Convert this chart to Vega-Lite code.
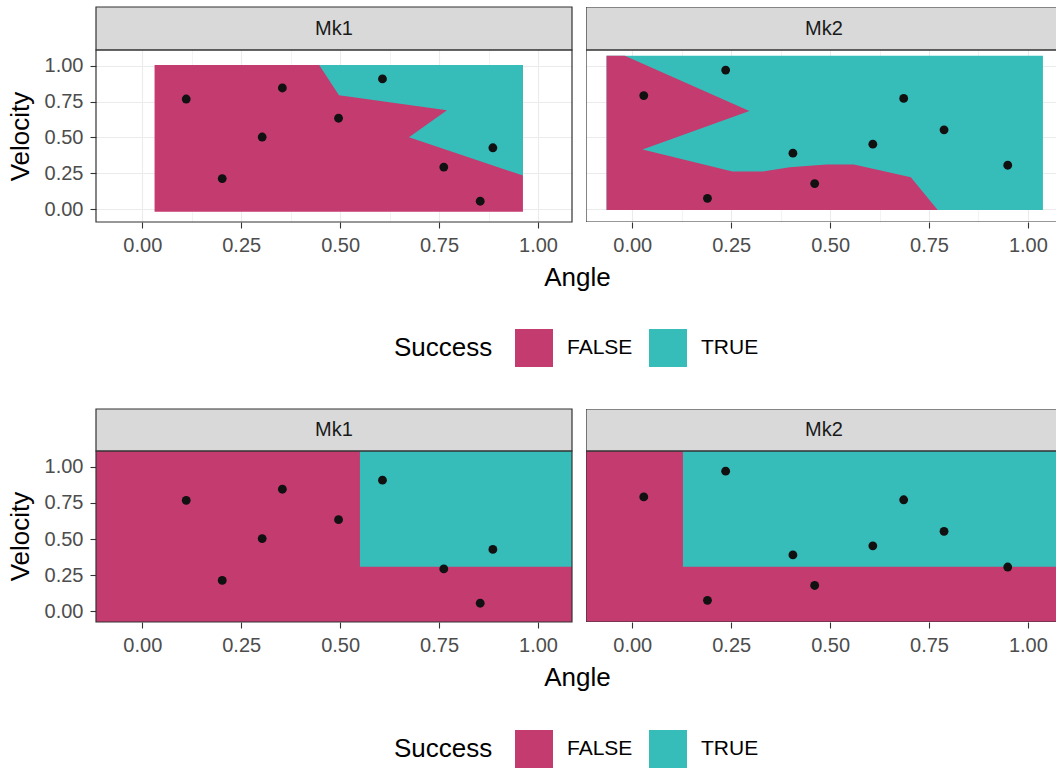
{
  "$schema": "https://vega.github.io/schema/vega-lite/v6.json",
  "background": "white",
  "padding": {"left": 7, "top": 6, "right": 0, "bottom": 0},
  "config": {
    "font": "Liberation Sans",
    "view": {"stroke": null},
    "axis": {
      "domain": false,
      "labelFont": "Liberation Sans",
      "labelFontSize": 20,
      "labelColor": "#4D4D4D",
      "labelPadding": 7,
      "labelOverlap": false,
      "labelFlush": false,
      "labelBound": false,
      "tickColor": "#333333",
      "tickSize": 6,
      "tickWidth": 1.1,
      "titleFont": "Liberation Sans",
      "titleFontSize": 26,
      "titleFontWeight": "normal",
      "titleColor": "#000000",
      "gridColor": "#EBEBEB"
    },
    "axisX": {"titlePadding": 9},
    "axisY": {"titlePadding": 11}
  },
  "data": {
    "values": [
      {"kind": "strip", "panel": "Mk1"},
      {"kind": "strip", "panel": "Mk2"},
      {"kind": "pt", "panel": "Mk1", "Angle": 0.111, "Velocity": 0.768},
      {"kind": "pt", "panel": "Mk1", "Angle": 0.202, "Velocity": 0.213},
      {"kind": "pt", "panel": "Mk1", "Angle": 0.303, "Velocity": 0.503},
      {"kind": "pt", "panel": "Mk1", "Angle": 0.354, "Velocity": 0.845},
      {"kind": "pt", "panel": "Mk1", "Angle": 0.496, "Velocity": 0.634},
      {"kind": "pt", "panel": "Mk1", "Angle": 0.607, "Velocity": 0.908},
      {"kind": "pt", "panel": "Mk1", "Angle": 0.762, "Velocity": 0.293},
      {"kind": "pt", "panel": "Mk1", "Angle": 0.854, "Velocity": 0.055},
      {"kind": "pt", "panel": "Mk1", "Angle": 0.886, "Velocity": 0.428},
      {"kind": "pt", "panel": "Mk2", "Angle": 0.029, "Velocity": 0.792},
      {"kind": "pt", "panel": "Mk2", "Angle": 0.236, "Velocity": 0.970},
      {"kind": "pt", "panel": "Mk2", "Angle": 0.190, "Velocity": 0.075},
      {"kind": "pt", "panel": "Mk2", "Angle": 0.406, "Velocity": 0.390},
      {"kind": "pt", "panel": "Mk2", "Angle": 0.461, "Velocity": 0.178},
      {"kind": "pt", "panel": "Mk2", "Angle": 0.608, "Velocity": 0.453},
      {"kind": "pt", "panel": "Mk2", "Angle": 0.686, "Velocity": 0.772},
      {"kind": "pt", "panel": "Mk2", "Angle": 0.788, "Velocity": 0.553},
      {"kind": "pt", "panel": "Mk2", "Angle": 0.949, "Velocity": 0.306},
      {"kind": "rect", "row": "top", "panel": "Mk1", "Success": "FALSE", "a1": 0.031, "a2": 0.962, "v1": -0.019, "v2": 1.005},
      {"kind": "rect", "row": "top", "panel": "Mk2", "Success": "TRUE", "a1": -0.065, "a2": 1.038, "v1": -0.007, "v2": 1.070},
      {"kind": "rect", "row": "bot", "panel": "Mk1", "Success": "FALSE", "a1": -0.117, "a2": 1.086, "v1": -0.075, "v2": 1.11},
      {"kind": "rect", "row": "bot", "panel": "Mk1", "Success": "TRUE", "a1": 0.55, "a2": 1.086, "v1": 0.307, "v2": 1.11},
      {"kind": "rect", "row": "bot", "panel": "Mk2", "Success": "FALSE", "a1": -0.117, "a2": 1.071, "v1": -0.075, "v2": 1.11},
      {"kind": "rect", "row": "bot", "panel": "Mk2", "Success": "TRUE", "a1": 0.128, "a2": 1.071, "v1": 0.307, "v2": 1.11},
      {"kind": "poly", "row": "top", "panel": "Mk1", "Success": "TRUE", "i": 0, "Angle": 0.447, "Velocity": 1.005},
      {"kind": "poly", "row": "top", "panel": "Mk1", "Success": "TRUE", "i": 1, "Angle": 0.497, "Velocity": 0.794},
      {"kind": "poly", "row": "top", "panel": "Mk1", "Success": "TRUE", "i": 2, "Angle": 0.770, "Velocity": 0.689},
      {"kind": "poly", "row": "top", "panel": "Mk1", "Success": "TRUE", "i": 3, "Angle": 0.674, "Velocity": 0.502},
      {"kind": "poly", "row": "top", "panel": "Mk1", "Success": "TRUE", "i": 4, "Angle": 0.962, "Velocity": 0.234},
      {"kind": "poly", "row": "top", "panel": "Mk1", "Success": "TRUE", "i": 5, "Angle": 0.962, "Velocity": 1.005},
      {"kind": "poly", "row": "top", "panel": "Mk2", "Success": "FALSE", "i": 0, "Angle": -0.065, "Velocity": 1.070},
      {"kind": "poly", "row": "top", "panel": "Mk2", "Success": "FALSE", "i": 1, "Angle": -0.019, "Velocity": 1.070},
      {"kind": "poly", "row": "top", "panel": "Mk2", "Success": "FALSE", "i": 2, "Angle": 0.296, "Velocity": 0.685},
      {"kind": "poly", "row": "top", "panel": "Mk2", "Success": "FALSE", "i": 3, "Angle": 0.026, "Velocity": 0.416},
      {"kind": "poly", "row": "top", "panel": "Mk2", "Success": "FALSE", "i": 4, "Angle": 0.253, "Velocity": 0.262},
      {"kind": "poly", "row": "top", "panel": "Mk2", "Success": "FALSE", "i": 5, "Angle": 0.330, "Velocity": 0.262},
      {"kind": "poly", "row": "top", "panel": "Mk2", "Success": "FALSE", "i": 6, "Angle": 0.398, "Velocity": 0.292},
      {"kind": "poly", "row": "top", "panel": "Mk2", "Success": "FALSE", "i": 7, "Angle": 0.491, "Velocity": 0.311},
      {"kind": "poly", "row": "top", "panel": "Mk2", "Success": "FALSE", "i": 8, "Angle": 0.560, "Velocity": 0.311},
      {"kind": "poly", "row": "top", "panel": "Mk2", "Success": "FALSE", "i": 9, "Angle": 0.628, "Velocity": 0.269},
      {"kind": "poly", "row": "top", "panel": "Mk2", "Success": "FALSE", "i": 10, "Angle": 0.704, "Velocity": 0.222},
      {"kind": "poly", "row": "top", "panel": "Mk2", "Success": "FALSE", "i": 11, "Angle": 0.772, "Velocity": -0.007},
      {"kind": "poly", "row": "top", "panel": "Mk2", "Success": "FALSE", "i": 12, "Angle": -0.065, "Velocity": -0.007}
    ]
  },
  "spacing": 41,
  "resolve": {"scale": {"fill": "independent"}, "legend": {"fill": "independent"}},
  "vconcat": [
    {
      "hconcat": [
        {
          "width": 476,
          "height": 215,
          "layer": [
            {
              "transform": [{"filter": "datum.kind == 'rect' && datum.row == 'top' && datum.panel == 'Mk1'"}],
              "mark": {"type": "rect"},
              "encoding": {
                "x": {"field": "a1", "type": "quantitative", "scale": {"domain": [-0.117, 1.086], "nice": false, "zero": false},
                  "axis": {"values": [0, 0.125, 0.25, 0.375, 0.5, 0.625, 0.75, 0.875, 1], "format": ".2f",
                    "labelExpr": "datum.value * 8 % 2 == 1 ? '' : datum.label", "grid": true,
                    "gridWidth": {"condition": {"test": "datum.value * 8 % 2 == 1", "value": 0.6}, "value": 1.1},
                    "tickOpacity": {"condition": {"test": "datum.value * 8 % 2 == 1", "value": 0}, "value": 1},
                    "title": "Angle", "titleX": 481}},
                "x2": {"field": "a2"},
                "y": {"field": "v1", "type": "quantitative", "scale": {"domain": [-0.09, 1.41], "nice": false, "zero": false},
                  "axis": {"values": [0, 0.125, 0.25, 0.375, 0.5, 0.625, 0.75, 0.875, 1], "format": ".2f",
                    "labelExpr": "datum.value * 8 % 2 == 1 ? '' : datum.label", "grid": true,
                    "gridWidth": {"condition": {"test": "datum.value * 8 % 2 == 1", "value": 0.6}, "value": 1.1},
                    "tickOpacity": {"condition": {"test": "datum.value * 8 % 2 == 1", "value": 0}, "value": 1},
                    "title": "Velocity", "titleY": 129}},
                "y2": {"field": "v2"},
                "fill": {"field": "Success", "type": "nominal", "scale": {"domain": ["FALSE", "TRUE"], "range": ["#C33B6F", "#36BDBA"]},
                  "legend": {"title": "Success", "orient": "none", "legendX": 298, "legendY": 322, "direction": "horizontal",
                    "titleOrient": "left", "titleAnchor": "middle", "titleBaseline": "middle", "titleFont": "Liberation Sans",
                    "titleFontSize": 26, "titleFontWeight": "normal", "titleColor": "#000000", "titlePadding": 22,
                    "symbolType": "square", "symbolSize": 1444, "symbolStrokeWidth": 0, "labelFont": "Liberation Sans",
                    "labelFontSize": 21, "labelColor": "#000000", "labelOffset": 14, "columnPadding": 16, "padding": 0}}
              }
            },
            {
              "transform": [{"filter": "datum.kind == 'poly' && datum.row == 'top' && datum.panel == 'Mk1'"}],
              "mark": {"type": "line", "interpolate": "linear-closed", "strokeWidth": 0},
              "encoding": {
                "x": {"field": "Angle", "type": "quantitative", "scale": {"domain": [-0.117, 1.086], "nice": false, "zero": false}},
                "y": {"field": "Velocity", "type": "quantitative", "scale": {"domain": [-0.09, 1.41], "nice": false, "zero": false}},
                "order": {"field": "i", "type": "quantitative"},
                "fill": {"field": "Success", "type": "nominal", "scale": {"domain": ["FALSE", "TRUE"], "range": ["#C33B6F", "#36BDBA"]},
                  "legend": {"title": "Success", "orient": "none", "legendX": 298, "legendY": 322, "direction": "horizontal",
                    "titleOrient": "left", "titleAnchor": "middle", "titleBaseline": "middle", "titleFont": "Liberation Sans",
                    "titleFontSize": 26, "titleFontWeight": "normal", "titleColor": "#000000", "titlePadding": 22,
                    "symbolType": "square", "symbolSize": 1444, "symbolStrokeWidth": 0, "labelFont": "Liberation Sans",
                    "labelFontSize": 21, "labelColor": "#000000", "labelOffset": 14, "columnPadding": 16, "padding": 0}}
              }
            },
            {
              "transform": [{"filter": "datum.kind == 'pt' && datum.panel == 'Mk1'"}],
              "mark": {"type": "circle", "size": 78, "color": "#111111", "opacity": 1},
              "encoding": {
                "x": {"field": "Angle", "type": "quantitative", "scale": {"domain": [-0.117, 1.086], "nice": false, "zero": false}},
                "y": {"field": "Velocity", "type": "quantitative", "scale": {"domain": [-0.09, 1.41], "nice": false, "zero": false}}
              }
            },
            {
              "transform": [{"filter": "datum.kind == 'strip' && datum.panel == 'Mk1'"}],
              "mark": {"type": "rect", "fill": "#D9D9D9", "stroke": "#333333", "strokeWidth": 1.2},
              "encoding": {
                "x": {"datum": -0.117, "type": "quantitative"},
                "x2": {"datum": 1.086},
                "y": {"datum": 1.11, "type": "quantitative"},
                "y2": {"datum": 1.41}
              }
            },
            {
              "transform": [{"filter": "datum.kind == 'strip' && datum.panel == 'Mk1'"}],
              "mark": {"type": "text", "fontSize": 20, "color": "#1A1A1A", "baseline": "middle", "align": "center"},
              "encoding": {
                "x": {"datum": 0.4845, "type": "quantitative"},
                "y": {"datum": 1.26, "type": "quantitative"},
                "text": {"field": "panel"}
              }
            },
            {
              "transform": [{"filter": "datum.kind == 'strip' && datum.panel == 'Mk1'"}],
              "mark": {"type": "rect", "filled": false, "stroke": "#333333", "strokeWidth": 1.2},
              "encoding": {
                "x": {"datum": -0.117, "type": "quantitative"},
                "x2": {"datum": 1.086},
                "y": {"datum": -0.09, "type": "quantitative"},
                "y2": {"datum": 1.11}
              }
            }
          ]
        },
        {
          "width": 470,
          "height": 215,
          "layer": [
            {
              "transform": [{"filter": "datum.kind == 'rect' && datum.row == 'top' && datum.panel == 'Mk2'"}],
              "mark": {"type": "rect"},
              "encoding": {
                "x": {"field": "a1", "type": "quantitative", "scale": {"domain": [-0.117, 1.071], "nice": false, "zero": false},
                  "axis": {"values": [0, 0.125, 0.25, 0.375, 0.5, 0.625, 0.75, 0.875, 1], "format": ".2f",
                    "labelExpr": "datum.value * 8 % 2 == 1 ? '' : datum.label", "grid": true,
                    "gridWidth": {"condition": {"test": "datum.value * 8 % 2 == 1", "value": 0.6}, "value": 1.1},
                    "tickOpacity": {"condition": {"test": "datum.value * 8 % 2 == 1", "value": 0}, "value": 1},
                    "title": null}},
                "x2": {"field": "a2"},
                "y": {"field": "v1", "type": "quantitative", "scale": {"domain": [-0.09, 1.41], "nice": false, "zero": false},
                  "axis": {"values": [0, 0.125, 0.25, 0.375, 0.5, 0.625, 0.75, 0.875, 1], "grid": true, "labels": false, "ticks": false,
                    "gridWidth": {"condition": {"test": "datum.value * 8 % 2 == 1", "value": 0.6}, "value": 1.1},
                    "title": null}},
                "y2": {"field": "v2"},
                "fill": {"field": "Success", "type": "nominal", "scale": {"domain": ["FALSE", "TRUE"], "range": ["#C33B6F", "#36BDBA"]},
                  "legend": {"title": "Success", "orient": "none", "legendX": 298, "legendY": 322, "direction": "horizontal",
                    "titleOrient": "left", "titleAnchor": "middle", "titleBaseline": "middle", "titleFont": "Liberation Sans",
                    "titleFontSize": 26, "titleFontWeight": "normal", "titleColor": "#000000", "titlePadding": 22,
                    "symbolType": "square", "symbolSize": 1444, "symbolStrokeWidth": 0, "labelFont": "Liberation Sans",
                    "labelFontSize": 21, "labelColor": "#000000", "labelOffset": 14, "columnPadding": 16, "padding": 0}}
              }
            },
            {
              "transform": [{"filter": "datum.kind == 'poly' && datum.row == 'top' && datum.panel == 'Mk2'"}],
              "mark": {"type": "line", "interpolate": "linear-closed", "strokeWidth": 0},
              "encoding": {
                "x": {"field": "Angle", "type": "quantitative", "scale": {"domain": [-0.117, 1.071], "nice": false, "zero": false}},
                "y": {"field": "Velocity", "type": "quantitative", "scale": {"domain": [-0.09, 1.41], "nice": false, "zero": false}},
                "order": {"field": "i", "type": "quantitative"},
                "fill": {"field": "Success", "type": "nominal", "scale": {"domain": ["FALSE", "TRUE"], "range": ["#C33B6F", "#36BDBA"]},
                  "legend": {"title": "Success", "orient": "none", "legendX": 298, "legendY": 322, "direction": "horizontal",
                    "titleOrient": "left", "titleAnchor": "middle", "titleBaseline": "middle", "titleFont": "Liberation Sans",
                    "titleFontSize": 26, "titleFontWeight": "normal", "titleColor": "#000000", "titlePadding": 22,
                    "symbolType": "square", "symbolSize": 1444, "symbolStrokeWidth": 0, "labelFont": "Liberation Sans",
                    "labelFontSize": 21, "labelColor": "#000000", "labelOffset": 14, "columnPadding": 16, "padding": 0}}
              }
            },
            {
              "transform": [{"filter": "datum.kind == 'pt' && datum.panel == 'Mk2'"}],
              "mark": {"type": "circle", "size": 78, "color": "#111111", "opacity": 1},
              "encoding": {
                "x": {"field": "Angle", "type": "quantitative", "scale": {"domain": [-0.117, 1.071], "nice": false, "zero": false}},
                "y": {"field": "Velocity", "type": "quantitative", "scale": {"domain": [-0.09, 1.41], "nice": false, "zero": false}}
              }
            },
            {
              "transform": [{"filter": "datum.kind == 'strip' && datum.panel == 'Mk2'"}],
              "mark": {"type": "rect", "fill": "#D9D9D9", "stroke": "#333333", "strokeWidth": 1.2, "clip": true},
              "encoding": {
                "x": {"datum": -0.117, "type": "quantitative"},
                "x2": {"datum": 1.1},
                "y": {"datum": 1.11, "type": "quantitative"},
                "y2": {"datum": 1.41}
              }
            },
            {
              "transform": [{"filter": "datum.kind == 'strip' && datum.panel == 'Mk2'"}],
              "mark": {"type": "text", "fontSize": 20, "color": "#1A1A1A", "baseline": "middle", "align": "center"},
              "encoding": {
                "x": {"datum": 0.4845, "type": "quantitative"},
                "y": {"datum": 1.26, "type": "quantitative"},
                "text": {"field": "panel"}
              }
            },
            {
              "transform": [{"filter": "datum.kind == 'strip' && datum.panel == 'Mk2'"}],
              "mark": {"type": "rect", "filled": false, "stroke": "#333333", "strokeWidth": 1.2, "clip": true},
              "encoding": {
                "x": {"datum": -0.117, "type": "quantitative"},
                "x2": {"datum": 1.1},
                "y": {"datum": -0.09, "type": "quantitative"},
                "y2": {"datum": 1.11}
              }
            }
          ]
        }
      ],
      "spacing": 14,
      "bounds": "flush",
      "resolve": {"scale": {"x": "independent", "y": "independent"}}
    },
    {
      "hconcat": [
        {
          "width": 476,
          "height": 213,
          "layer": [
            {
              "transform": [{"filter": "datum.kind == 'rect' && datum.row == 'bot' && datum.panel == 'Mk1'"}],
              "mark": {"type": "rect"},
              "encoding": {
                "x": {"field": "a1", "type": "quantitative", "scale": {"domain": [-0.117, 1.086], "nice": false, "zero": false},
                  "axis": {"values": [0, 0.25, 0.5, 0.75, 1], "format": ".2f", "grid": false, "title": "Angle", "titleX": 481}},
                "x2": {"field": "a2"},
                "y": {"field": "v1", "type": "quantitative", "scale": {"domain": [-0.075, 1.401], "nice": false, "zero": false},
                  "axis": {"values": [0, 0.25, 0.5, 0.75, 1], "format": ".2f", "grid": false, "title": "Velocity", "titleY": 127}},
                "y2": {"field": "v2"},
                "fill": {"field": "Success", "type": "nominal", "scale": {"domain": ["FALSE", "TRUE"], "range": ["#C33B6F", "#36BDBA"]},
                  "legend": {"title": "Success", "orient": "none", "legendX": 298, "legendY": 321, "direction": "horizontal",
                    "titleOrient": "left", "titleAnchor": "middle", "titleBaseline": "middle", "titleFont": "Liberation Sans",
                    "titleFontSize": 26, "titleFontWeight": "normal", "titleColor": "#000000", "titlePadding": 22,
                    "symbolType": "square", "symbolSize": 1444, "symbolStrokeWidth": 0, "labelFont": "Liberation Sans",
                    "labelFontSize": 21, "labelColor": "#000000", "labelOffset": 14, "columnPadding": 16, "padding": 0}}
              }
            },
            {
              "transform": [{"filter": "datum.kind == 'pt' && datum.panel == 'Mk1'"}],
              "mark": {"type": "circle", "size": 78, "color": "#111111", "opacity": 1},
              "encoding": {
                "x": {"field": "Angle", "type": "quantitative", "scale": {"domain": [-0.117, 1.086], "nice": false, "zero": false}},
                "y": {"field": "Velocity", "type": "quantitative", "scale": {"domain": [-0.075, 1.401], "nice": false, "zero": false}}
              }
            },
            {
              "transform": [{"filter": "datum.kind == 'strip' && datum.panel == 'Mk1'"}],
              "mark": {"type": "rect", "fill": "#D9D9D9", "stroke": "#333333", "strokeWidth": 1.2},
              "encoding": {
                "x": {"datum": -0.117, "type": "quantitative"},
                "x2": {"datum": 1.086},
                "y": {"datum": 1.11, "type": "quantitative"},
                "y2": {"datum": 1.401}
              }
            },
            {
              "transform": [{"filter": "datum.kind == 'strip' && datum.panel == 'Mk1'"}],
              "mark": {"type": "text", "fontSize": 20, "color": "#1A1A1A", "baseline": "middle", "align": "center"},
              "encoding": {
                "x": {"datum": 0.4845, "type": "quantitative"},
                "y": {"datum": 1.2555, "type": "quantitative"},
                "text": {"field": "panel"}
              }
            },
            {
              "transform": [{"filter": "datum.kind == 'strip' && datum.panel == 'Mk1'"}],
              "mark": {"type": "rect", "filled": false, "stroke": "#333333", "strokeWidth": 1.2},
              "encoding": {
                "x": {"datum": -0.117, "type": "quantitative"},
                "x2": {"datum": 1.086},
                "y": {"datum": -0.075, "type": "quantitative"},
                "y2": {"datum": 1.11}
              }
            }
          ]
        },
        {
          "width": 470,
          "height": 213,
          "layer": [
            {
              "transform": [{"filter": "datum.kind == 'rect' && datum.row == 'bot' && datum.panel == 'Mk2'"}],
              "mark": {"type": "rect"},
              "encoding": {
                "x": {"field": "a1", "type": "quantitative", "scale": {"domain": [-0.117, 1.071], "nice": false, "zero": false},
                  "axis": {"values": [0, 0.25, 0.5, 0.75, 1], "format": ".2f", "grid": false, "title": null}},
                "x2": {"field": "a2"},
                "y": {"field": "v1", "type": "quantitative", "scale": {"domain": [-0.075, 1.401], "nice": false, "zero": false}, "axis": null},
                "y2": {"field": "v2"},
                "fill": {"field": "Success", "type": "nominal", "scale": {"domain": ["FALSE", "TRUE"], "range": ["#C33B6F", "#36BDBA"]},
                  "legend": {"title": "Success", "orient": "none", "legendX": 298, "legendY": 321, "direction": "horizontal",
                    "titleOrient": "left", "titleAnchor": "middle", "titleBaseline": "middle", "titleFont": "Liberation Sans",
                    "titleFontSize": 26, "titleFontWeight": "normal", "titleColor": "#000000", "titlePadding": 22,
                    "symbolType": "square", "symbolSize": 1444, "symbolStrokeWidth": 0, "labelFont": "Liberation Sans",
                    "labelFontSize": 21, "labelColor": "#000000", "labelOffset": 14, "columnPadding": 16, "padding": 0}}
              }
            },
            {
              "transform": [{"filter": "datum.kind == 'pt' && datum.panel == 'Mk2'"}],
              "mark": {"type": "circle", "size": 78, "color": "#111111", "opacity": 1},
              "encoding": {
                "x": {"field": "Angle", "type": "quantitative", "scale": {"domain": [-0.117, 1.071], "nice": false, "zero": false}},
                "y": {"field": "Velocity", "type": "quantitative", "scale": {"domain": [-0.075, 1.401], "nice": false, "zero": false}}
              }
            },
            {
              "transform": [{"filter": "datum.kind == 'strip' && datum.panel == 'Mk2'"}],
              "mark": {"type": "rect", "fill": "#D9D9D9", "stroke": "#333333", "strokeWidth": 1.2, "clip": true},
              "encoding": {
                "x": {"datum": -0.117, "type": "quantitative"},
                "x2": {"datum": 1.1},
                "y": {"datum": 1.11, "type": "quantitative"},
                "y2": {"datum": 1.401}
              }
            },
            {
              "transform": [{"filter": "datum.kind == 'strip' && datum.panel == 'Mk2'"}],
              "mark": {"type": "text", "fontSize": 20, "color": "#1A1A1A", "baseline": "middle", "align": "center"},
              "encoding": {
                "x": {"datum": 0.4845, "type": "quantitative"},
                "y": {"datum": 1.2555, "type": "quantitative"},
                "text": {"field": "panel"}
              }
            },
            {
              "transform": [{"filter": "datum.kind == 'strip' && datum.panel == 'Mk2'"}],
              "mark": {"type": "rect", "filled": false, "stroke": "#333333", "strokeWidth": 1.2, "clip": true},
              "encoding": {
                "x": {"datum": -0.117, "type": "quantitative"},
                "x2": {"datum": 1.1},
                "y": {"datum": -0.075, "type": "quantitative"},
                "y2": {"datum": 1.11}
              }
            }
          ]
        }
      ],
      "spacing": 14,
      "bounds": "flush",
      "resolve": {"scale": {"x": "independent", "y": "independent"}}
    }
  ]
}
